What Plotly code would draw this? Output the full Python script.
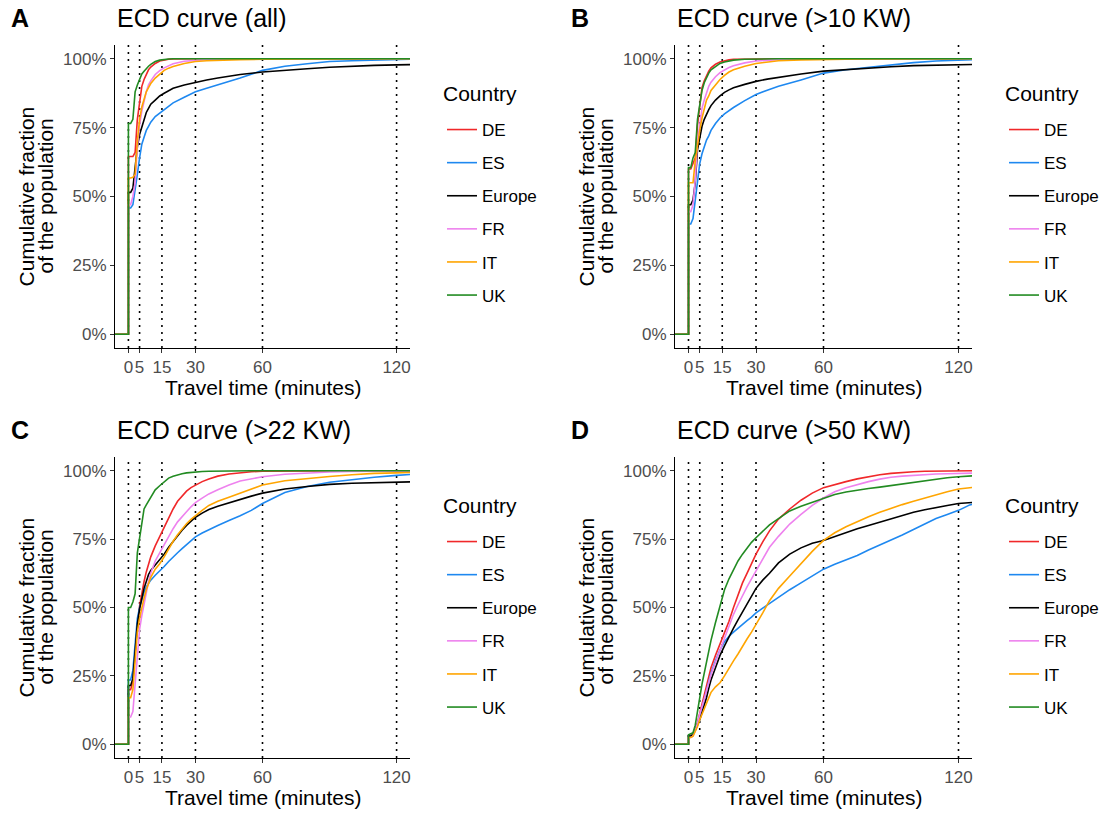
import plotly.graph_objects as go

W, H = 1108, 813
FONT = "Liberation Sans, Arial, sans-serif"

COUNTRIES = ["DE", "ES", "Europe", "FR", "IT", "UK"]
COLORS = ["#F0282A", "#1E88F0", "#000000", "#EE82EE", "#FFA500", "#228B22"]

X_TICKS = [0, 5, 15, 30, 60, 120]
X_TICK_TEXT = ["0", "5", "15", "30", "60", "120"]
Y_TICKS = [0, 0.25, 0.5, 0.75, 1.0]
Y_TICK_TEXT = ["0%", "25%", "50%", "75%", "100%"]

# ---- Panel A / B time grid (minutes); the repeated 0 carries the jump at 0 ----
T_AB = [-10, 0, 0, 1, 2, 3, 4, 5, 6, 7, 8, 9, 10, 12, 14, 16, 18, 20, 25, 30, 35, 40, 50, 60, 70, 80, 90, 100, 110, 120, 130]

A_DE = [0, 0, 64.5, 64.5, 64.5, 66, 78, 84, 90, 92.5, 94.5, 96, 97, 98.3, 99.2, 99.6, 99.8, 99.9, 100, 100, 100, 100, 100, 100, 100, 100, 100, 100, 100, 100, 100]
A_ES = [0, 0, 45.8, 45.8, 47, 52, 58, 64, 69, 71.5, 74, 75.5, 77, 79, 80.3, 81.5, 82.8, 84, 86, 88, 89.3, 90.5, 93, 95.8, 97.3, 98.2, 99, 99.3, 99.6, 99.8, 99.9]
A_EU = [0, 0, 51.5, 51.5, 53, 60, 68, 72.5, 75.5, 78, 80.5, 82, 83.5, 85, 86.5, 87.5, 88.5, 89.3, 90.5, 91.5, 92.3, 93, 94.3, 95.2, 95.9, 96.4, 96.9, 97.3, 97.6, 97.8, 97.9]
A_FR = [0, 0, 47, 47, 50, 55, 68, 76, 81, 85, 88, 90.5, 92, 94.3, 95.7, 96.7, 97.5, 98.2, 99.1, 99.5, 99.7, 99.8, 99.9, 100, 100, 100, 100, 100, 100, 100, 100]
A_IT = [0, 0, 56.7, 56.7, 57, 58, 70, 78, 82.5, 85.5, 88, 89.5, 91, 93, 94.5, 95.8, 96.6, 97.2, 98.3, 99, 99.3, 99.5, 99.7, 99.8, 99.8, 99.9, 99.9, 99.9, 99.9, 99.9, 100]
A_UK = [0, 0, 76.5, 76.5, 78, 88, 90.5, 92.5, 94.5, 95.5, 96.5, 97.3, 98, 99, 99.5, 99.8, 99.9, 100, 100, 100, 100, 100, 100, 100, 100, 100, 100, 100, 100, 100, 100]

B_DE = [0, 0, 60, 60, 62, 64, 76, 84, 89.5, 92, 94, 95.5, 96.7, 98, 98.8, 99.3, 99.6, 99.8, 99.9, 100, 100, 100, 100, 100, 100, 100, 100, 100, 100, 100, 100]
B_ES = [0, 0, 40, 40, 42, 48, 56, 62, 65.5, 68, 70.5, 72, 74, 76.5, 78.5, 80, 81.2, 82.3, 84.8, 87, 88.6, 90, 92.3, 94.8, 96, 96.9, 97.8, 98.6, 99.2, 99.6, 99.8]
B_EU = [0, 0, 47, 47, 48.8, 55, 67, 72, 75.5, 78, 80, 81.5, 83, 85, 86.5, 87.8, 88.7, 89.5, 90.7, 91.8, 92.6, 93.3, 94.5, 95.5, 96.1, 96.6, 97.1, 97.5, 97.7, 97.9, 98]
B_FR = [0, 0, 44.5, 44.5, 47, 56, 70, 76, 82, 85, 88, 90, 91.5, 93.5, 95, 96, 96.8, 97.5, 98.5, 99.2, 99.5, 99.7, 99.9, 100, 100, 100, 100, 100, 100, 100, 100]
B_IT = [0, 0, 55, 55, 55, 63, 69, 74, 78.5, 82, 85, 86.5, 88.5, 90.5, 92.5, 94, 95.2, 96, 97.3, 98.3, 98.9, 99.3, 99.6, 99.8, 99.8, 99.9, 99.9, 99.9, 100, 100, 100]
B_UK = [0, 0, 60.5, 60.5, 64, 66, 78, 84, 88.5, 91.3, 93.2, 94.8, 96, 97.3, 98.3, 98.8, 99.2, 99.5, 99.8, 99.9, 100, 100, 100, 100, 100, 100, 100, 100, 100, 100, 100]

# ---- Panel C time grid ----
T_C = [-10, 0, 0, 1, 2, 3, 4, 5, 6, 7, 8, 9, 10, 12, 14, 16, 18, 20, 22, 24, 26, 28, 30, 33, 36, 40, 45, 50, 55, 60, 70, 80, 90, 100, 110, 120, 130]

C_DE = [0, 0, 20, 20, 23, 34, 43, 50.5, 55.5, 59.5, 63, 66, 68.5, 72.5, 76, 79.5, 82.8, 86, 88.8, 90.8, 92.5, 93.8, 94.8, 96, 97, 98, 98.8, 99.3, 99.6, 99.8, 99.9, 100, 100, 100, 100, 100, 100]
C_ES = [0, 0, 23.5, 23.5, 27, 38, 46, 50, 53, 55.5, 57.5, 59, 60, 61.8, 63.3, 65, 66.8, 68.5, 70, 71.5, 73, 74.3, 75.8, 77.2, 78.5, 80, 81.8, 83.5, 85.5, 88, 92, 94.2, 95.8, 96.8, 97.6, 98.3, 98.8]
C_EU = [0, 0, 21.5, 21.5, 24, 35, 44, 49.5, 53.5, 57, 59.5, 62, 63.5, 65.5, 67.5, 69.5, 72, 74.2, 76.3, 78.2, 80, 81.5, 83, 84.5, 85.8, 87, 88.3, 89.5, 90.7, 91.8, 93.3, 94.2, 95, 95.4, 95.6, 95.8, 96]
C_FR = [0, 0, 10, 10, 12, 22, 33, 42, 47, 51, 56, 59.5, 62.5, 67, 70, 73, 76, 78.8, 81.3, 83.3, 85, 86.8, 88.3, 90, 91.5, 93, 94.8, 96.2, 97, 97.8, 98.7, 99.2, 99.5, 99.7, 99.8, 99.8, 99.9]
C_IT = [0, 0, 17, 17, 20, 30, 41, 46, 50, 53.5, 56.5, 59, 61, 64, 66, 68.5, 71.5, 74.2, 76.6, 78.8, 80.6, 82.2, 83.6, 85.5, 87.3, 88.8, 90.3, 91.8, 93.3, 94.8, 96.3, 97.2, 97.9, 98.5, 99, 99.2, 99.4]
C_UK = [0, 0, 50, 50, 52, 55, 70, 76, 82, 86, 87.5, 89, 90.5, 93, 94.5, 96, 97.3, 98, 98.5, 98.9, 99.2, 99.4, 99.6, 99.7, 99.8, 99.9, 100, 100, 100, 100, 100, 100, 100, 100, 100, 100, 100]

# ---- Panel D time grid ----
T_D = [-10, 0, 0, 1, 2, 3, 4, 5, 6, 7, 8, 9, 10, 12, 14, 16, 18, 20, 22, 24, 26, 28, 30, 33, 36, 40, 45, 50, 55, 60, 65, 70, 75, 80, 85, 90, 95, 100, 105, 110, 115, 120, 125, 130]

D_DE = [0, 0, 3, 3, 4, 5.5, 8, 11.5, 14, 17.5, 21, 24.5, 28, 32.5, 36.5, 40.5, 45, 50, 54.5, 59, 62.5, 66, 69.5, 74, 78, 82.3, 86, 89.2, 91.8, 93.8, 95, 96, 97, 97.8, 98.5, 99, 99.4, 99.6, 99.8, 99.9, 100, 100, 100, 100]
D_ES = [0, 0, 3, 3, 3.5, 5, 7.5, 10, 13, 16.5, 19.5, 23, 26, 30.5, 34.5, 37.5, 39.5, 41, 42.5, 44, 45.2, 46.5, 48, 49.8, 51.5, 53.5, 56.5, 59, 61.5, 64, 65.8, 67.3, 69, 71, 72.8, 74.5, 76.5, 78.5, 80.5, 82.5, 84, 85.5, 87.5, 88.5]
D_EU = [0, 0, 3, 3, 3.5, 5, 7, 9, 11.5, 14.5, 17, 20.5, 23.5, 28, 32.5, 36, 39.5, 42.5, 45.5, 48.5, 51.5, 54.5, 57, 60, 62.5, 66.3, 69.5, 71.8, 73.5, 74.5, 76, 77.5, 78.8, 80, 81.2, 82.5, 83.8, 84.8, 85.7, 86.6, 87.3, 88, 88.3, 88.6]
D_FR = [0, 0, 2.5, 2.5, 3, 5, 7.5, 11, 13.5, 16.5, 19.5, 22.5, 25.5, 30, 34.5, 38.5, 43, 47.5, 51, 54.5, 57.5, 60.5, 63.5, 67.8, 72, 76, 80.5, 84, 87.3, 90, 92.3, 93.8, 95, 96, 96.9, 97.6, 98, 98.3, 98.6, 98.8, 98.9, 99, 99.1, 99.2]
D_IT = [0, 0, 2.5, 2.5, 3, 4.5, 6.5, 9, 11, 13, 15, 17, 19, 21, 22.5, 25, 28, 30.5, 33, 36, 38.5, 41, 43.6, 48, 52.5, 57, 61.5, 66, 70.5, 74.5, 77.3, 79.5, 81.5, 83.2, 84.8, 86.3, 87.6, 88.8, 90, 91.2, 92.3, 93.3, 93.8, 94.2]
D_UK = [0, 0, 3.5, 4, 4.2, 7, 12, 18, 22, 26, 30.5, 34.5, 38, 44.5, 51, 56.5, 60.5, 64, 67, 69.5, 71.8, 73.8, 75.5, 78, 80.2, 82.5, 85.3, 87, 88.5, 90, 91.3, 92.2, 92.9, 93.5, 94, 94.6, 95.2, 95.8, 96.4, 96.9, 97.4, 97.8, 98.1, 98.3]

PANELS = [
    dict(tag="A", title="ECD curve (all)", t=T_AB, series=[A_DE, A_ES, A_EU, A_FR, A_IT, A_UK], px=(115, 410), py=(45, 348)),
    dict(tag="B", title="ECD curve (>10 KW)", t=T_AB, series=[B_DE, B_ES, B_EU, B_FR, B_IT, B_UK], px=(675, 972), py=(45, 348)),
    dict(tag="C", title="ECD curve (>22 KW)", t=T_C, series=[C_DE, C_ES, C_EU, C_FR, C_IT, C_UK], px=(115, 410), py=(457, 758)),
    dict(tag="D", title="ECD curve (>50 KW)", t=T_D, series=[D_DE, D_ES, D_EU, D_FR, D_IT, D_UK], px=(675, 972), py=(457, 758)),
]

fig = go.Figure()
layout = dict(
    width=W, height=H,
    margin=dict(l=0, r=0, t=0, b=0),
    paper_bgcolor="white", plot_bgcolor="white",
    font=dict(family=FONT, color="black"),
    showlegend=True,
)
shapes = []
annotations = []

for i, p in enumerate(PANELS):
    n = "" if i == 0 else str(i + 1)
    xa, ya = "x" + n, "y" + n
    leg = "legend" + n
    for name, color, vals in zip(COUNTRIES, COLORS, p["series"]):
        fig.add_trace(go.Scatter(
            x=p["t"], y=[v / 100 for v in vals], mode="lines", name=name,
            line=dict(color=color, width=1.6, shape="linear"),
            xaxis=xa, yaxis=ya, legend=leg, legendgroup=p["tag"] + name,
            hoverinfo="skip",
        ))
    x0, x1 = p["px"]
    y0, y1 = p["py"]
    axis_common = dict(
        showline=True, linecolor="black", linewidth=1.1, mirror=False,
        ticks="outside", ticklen=4, tickwidth=1.1, tickcolor="#333333",
        tickfont=dict(size=17, color="#4D4D4D", family=FONT),
        showgrid=False, zeroline=False, fixedrange=True, tickangle=0,
    )
    layout["xaxis" + n] = dict(axis_common, domain=[x0 / W, x1 / W], range=[-6, 126],
                               tickvals=X_TICKS, ticktext=X_TICK_TEXT, anchor=ya)
    layout["yaxis" + n] = dict(axis_common, domain=[1 - y1 / H, 1 - y0 / H], range=[-0.05, 1.05],
                               tickvals=Y_TICKS, ticktext=Y_TICK_TEXT, anchor=xa)
    for tv in X_TICKS:
        shapes.append(dict(type="line", xref=xa, yref=ya + " domain", x0=tv, x1=tv, y0=0, y1=1,
                           line=dict(color="black", width=1.6, dash="2px,5px"), layer="below"))
    # legend (title drawn as an annotation for exact spacing)
    layout[leg] = dict(
        x=(x1 + 32) / W, y=1 - (y0 + 67) / H, xanchor="left", yanchor="top",
        font=dict(size=17, family=FONT, color="black"),
        tracegroupgap=8, itemwidth=30, bgcolor="rgba(0,0,0,0)",
        itemclick=False, itemdoubleclick=False,
    )
    annotations.append(dict(text="Country", x=(x1 + 31) / W, y=1 - (y0 + 48) / H,
                            xref="paper", yref="paper", xanchor="left", yanchor="middle",
                            showarrow=False, font=dict(size=21, family=FONT, color="black")))
    # tag and title
    annotations.append(dict(text="<b>" + p["tag"] + "</b>", x=(x0 - 106) / W, y=1 - (y0 - 27) / H,
                            xref="paper", yref="paper", xanchor="left", yanchor="middle",
                            showarrow=False, font=dict(size=25, family=FONT, color="black")))
    annotations.append(dict(text=p["title"], x=x0 / W, y=1 - (y0 - 27) / H,
                            xref="paper", yref="paper", xanchor="left", yanchor="middle",
                            showarrow=False, font=dict(size=25, family=FONT, color="black")))
    # axis titles
    annotations.append(dict(text="Travel time (minutes)", x=(x0 + x1) / 2 / W, y=1 - (y1 + 39) / H,
                            xref="paper", yref="paper", xanchor="center", yanchor="middle",
                            showarrow=False, font=dict(size=21, family=FONT, color="black")))
    for line_txt, dx in (("Cumulative fraction", 89), ("of the population", 70)):
        annotations.append(dict(text=line_txt, x=(x0 - dx) / W, y=1 - (y0 + y1) / 2 / H,
                                xref="paper", yref="paper", xanchor="center", yanchor="middle",
                                textangle=-90, showarrow=False,
                                font=dict(size=21, family=FONT, color="black")))

layout["shapes"] = shapes
layout["annotations"] = annotations
fig.update_layout(**layout)
fig.write_html("out.html", config={"displayModeBar": False},
               post_script="document.body.style.margin='0';document.body.style.padding='0';")
